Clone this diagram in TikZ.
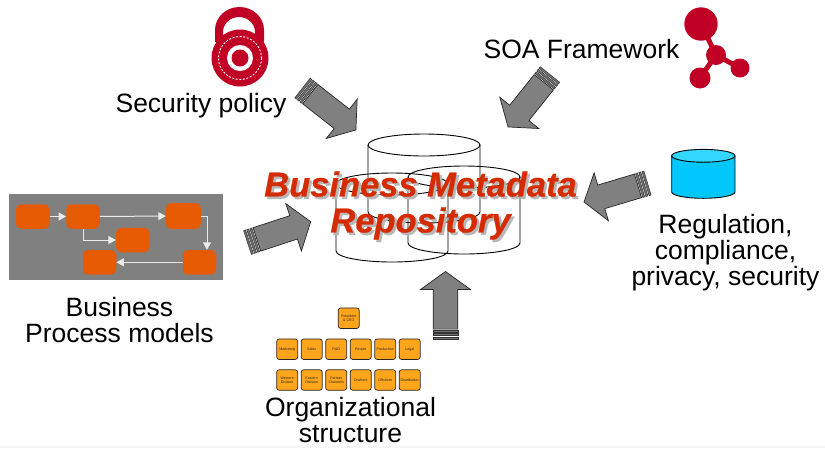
\documentclass[tikz,border=0pt]{standalone}
\usepackage{fontspec}
\setmainfont{Liberation Sans}
\newfontfamily\titlefont[FakeBold=0.7]{Liberation Sans Bold Italic}
\usetikzlibrary{arrows.meta,calc}
\definecolor{arrowgray}{HTML}{808080}
\definecolor{flowfill}{HTML}{E65A02}
\definecolor{orgfill}{HTML}{FFA51C}
\definecolor{iconred}{HTML}{C00024}
\definecolor{titlered}{HTML}{D42C00}
\definecolor{dbfill}{HTML}{00C8FF}
\definecolor{dbtop}{HTML}{33D6FF}
\tikzset{
  label text/.style={font=\fontsize{26.5}{26}\selectfont,align=center,inner sep=0pt,text=black},
  flowbox/.style={fill=flowfill,rounded corners=5pt,minimum width=33.5pt,minimum height=24.5pt,inner sep=0pt},
  flowline/.style={draw=white!92!black,line width=1pt,-{Triangle[length=7.5pt,width=8pt]}},
  orgbox/.style={draw=black!85,line width=.7pt,fill=orgfill,rounded corners=2.5pt,minimum width=21pt,minimum height=20.5pt,inner sep=0pt,align=center,font=\fontsize{3.6}{4.4}\selectfont,text=black!85},
  title text/.style={font=\fontsize{34.5}{36}\titlefont\selectfont,align=center,inner sep=0pt},
  cyl/.style={draw=black,line width=.9pt},
  block/.style={draw=black!85,line width=.7pt,fill=arrowgray},
  stripe/.style={draw=black!80,line width=.5pt,fill=black!55},
}
\newcommand{\blockarrow}[4]{%
  \pgfmathsetmacro{\angval}{atan2(-((#4)-(#2)),(#3)-(#1))}%
  \pgfmathsetmacro{\lenval}{veclen((#3)-(#1),(#4)-(#2))}%
  \pgfmathsetmacro{\headval}{\lenval-18}%
  \begin{scope}[shift={(#1,#2)},rotate=\angval]
    \draw[stripe] (0,-12.5) rectangle (2.1,12.5);
    \draw[stripe] (3.3,-12.5) rectangle (5.4,12.5);
    \draw[stripe] (6.6,-12.5) rectangle (8.7,12.5);
    \draw[block,line join=miter] (9.9,-12.3) -- (\headval,-12.3) -- (\headval,-25) -- (\lenval,0) -- (\headval,25) -- (\headval,12.3) -- (9.9,12.3) -- cycle;
  \end{scope}}
\newcommand{\repocyl}[4]{% x1 x2 ytop ybottom
  \pgfmathsetmacro{\rxval}{((#2)-(#1))/2}%
  \pgfmathsetmacro{\cxval}{((#2)+(#1))/2}%
  \draw[cyl] (\cxval,#3) ellipse ({\rxval pt} and 11pt);
  \draw[cyl] (#1,#3) -- (#1,#4) arc (180:360:{\rxval pt} and 11pt) -- (#2,#3);}
\begin{document}
\begin{tikzpicture}[x=1pt,y=-1pt]
\useasboundingbox (0,0) rectangle (825,448);
\fill[white] (0,0) rectangle (825,448);
\fill[black!4] (0,446) rectangle (825,448);

% repository
\repocyl{368}{480}{145}{212}
\repocyl{336}{448}{184}{251}
\repocyl{408}{520}{177}{243}

% arrows
\blockarrow{302.5}{88}{356}{130}
\blockarrow{550}{74.5}{508}{127}
\blockarrow{647.5}{183}{584}{202}
\blockarrow{247.5}{242.5}{310.7}{221.7}
\blockarrow{445.5}{339}{445.5}{271.5}

% title
\node[title text,text=black!28] (titleshadow) at (423,208) {Business Metadata\\Repository};
\node[title text,text=titlered] (title) at (420.5,205.5) {Business Metadata\\Repository};

% labels
\node[label text] (security) at (201,106) {Security policy};
\node[label text] (soa) at (581.5,49) {SOA Framework};
\node[label text] (regulation) at (725.5,252.5) {Regulation,\\compliance,\\privacy, security};
\node[label text] (process) at (119.5,320) {Business\\Process models};
\node[label text] (org) at (350.5,420.5) {Organizational\\structure};

% lock icon
\fill[iconred] (240,58) circle (28.5);
\fill[iconred,even odd rule] (215,42) -- (215,30) arc (180:0:24.5pt and 23pt) -- (264,42) -- cycle
  (223,36) -- (223,32) arc (180:0:16pt and 15pt) -- (255,36) .. controls (246,32) and (232,32) .. (223,36) -- cycle;
\draw[white,line width=.9pt,dash pattern=on 2pt off 1.6pt] (240,58) circle (21.5);
\fill[white] (240,58) circle (13);
\fill[iconred] (240,58) circle (8.5);

% network icon
\draw[iconred,line width=5pt] (701,24) -- (716,55) (740,68) -- (716,55) -- (700,78);
\fill[iconred] (701,24) circle (16.7);
\fill[iconred] (716,55) circle (10);
\fill[iconred] (740,68) circle (9.5);
\fill[iconred] (700,78) circle (10.5);

% database icon
\draw[cyl,fill=dbfill] (671.7,156) -- (671.7,192) arc (180:360:31.65pt and 6.3pt) -- (735,156) -- cycle;
\draw[cyl,fill=dbtop] (703.35,155.8) ellipse (31.65pt and 6.4pt);

% process panel
\fill[arrowgray] (9,194) rectangle (222.5,280);
\node[flowbox] (f1) at (32.8,216.5) {};
\node[flowbox] (f2) at (83,216.5) {};
\node[flowbox,minimum width=35pt,minimum height=26pt] (f3) at (183.5,216) {};
\node[flowbox] (f4) at (132.8,240) {};
\node[flowbox] (f5) at (99.5,262.3) {};
\node[flowbox] (f6) at (199.5,262.3) {};
\draw[flowline] (f1) -- (f2);
\draw[flowline] (f2) -- (f3);
\draw[flowline] (f2.south) |- (f4.west);
\draw[flowline] (f3.east) -| ([xshift=7.5pt]f6.north);
\draw[flowline] (f6) -- (f5);

% organisation chart
\node[orgbox] (ceo) at (348.7,318.2) {President\\\& CEO};
\node[orgbox] (a1) at (287.2,349.2) {Marketing};
\node[orgbox] (a2) at (311.7,349.2) {Sales};
\node[orgbox] (a3) at (336.2,349.2) {R\&D};
\node[orgbox] (a4) at (360.7,349.2) {People};
\node[orgbox] (a5) at (385.2,349.2) {Production};
\node[orgbox] (a6) at (409.7,349.2) {Legal};
\node[orgbox] (b1) at (287.2,380) {Western\\Division};
\node[orgbox] (b2) at (311.7,380) {Eastern\\Division};
\node[orgbox] (b3) at (336.2,380) {Partner\\Channels};
\node[orgbox] (b4) at (360.7,380) {Onshore};
\node[orgbox] (b5) at (385.2,380) {Offshore};
\node[orgbox] (b6) at (409.7,380) {Distribution};
\end{tikzpicture}
\end{document}
